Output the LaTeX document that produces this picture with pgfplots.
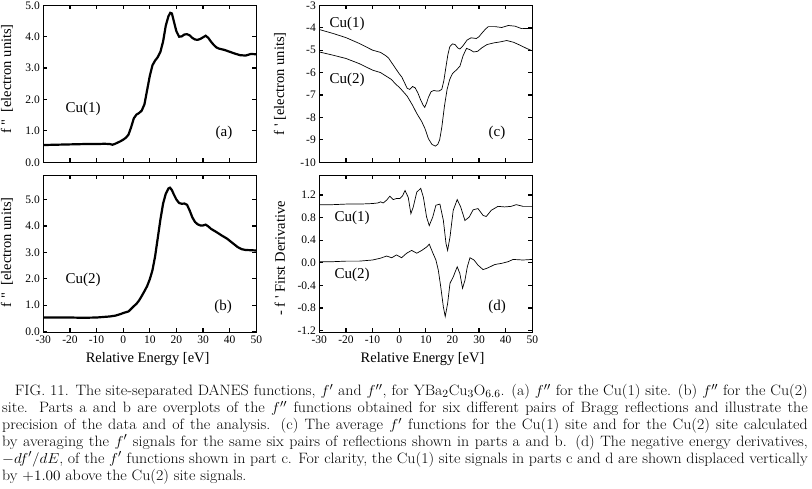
\documentclass[border=0pt]{standalone}
\usepackage{fontspec}
\usepackage{graphicx}
\usepackage{pgfplots}
\pgfplotsset{compat=1.18}
\newfontfamily\plotfont{Liberation Serif}
\newcommand\axlabelfont{\plotfont\fontsize{14.5}{15}\selectfont}

\pgfplotsset{
  panel/.style={
    scale only axis, width=213pt, height=157pt,
    xmin=-30, xmax=50, xtick={-30,-20,...,50},
    tick align=inside, major tick length=4pt,
    axis line style={line width=1.5pt},
    every tick/.style={black, line width=1.2pt},
    tick label style={font=\plotfont\fontsize{11.5}{12}\selectfont},
    /pgf/number format/assume math mode=true,
  },
  onedec/.style={yticklabel style={/pgf/number format/.cd, fixed, fixed zerofill, precision=1}},
}

\begin{document}
\begin{tikzpicture}
\path[use as bounding box] (0pt,0pt) rectangle (812pt,489pt);

% (a) f'' Cu(1)
\begin{axis}[panel, onedec, at={(43.3pt,326.7pt)}, anchor=south west,
  ymin=0, ymax=5, ytick={0,1,...,5}, xticklabels={},
  ylabel={f "\ \ [electron units]},
  every axis y label/.style={at={(axis description cs:-0.170,0.53)}, rotate=90, anchor=center, font=\axlabelfont}]
\addplot[black, line width=2.2pt] coordinates {
(-30,0.55) (-25,0.56) (-20,0.57) (-15,0.58) (-10,0.58) (-7,0.59) (-5,0.58)
(-4,0.56) (-3,0.59) (-2,0.63) (-1,0.67) (0,0.72) (1,0.78) (2,0.88) (3,1.12)
(4,1.40) (5,1.52) (6,1.57) (7,1.65) (8,1.85) (9,2.30) (10,2.75) (11,3.09)
(12,3.24) (13,3.35) (14,3.52) (15,3.85) (16,4.35) (17,4.65) (17.7,4.76)
(18.3,4.74) (19,4.5) (20,4.17) (21,4.0) (22,4.01) (23,4.07) (24,4.08)
(25,4.04) (26,3.96) (27,3.91) (28,3.9) (29,3.93) (30,3.98) (31,4.03)
(32,3.96) (33,3.84) (34,3.74) (35,3.66) (36,3.62) (38,3.58) (40,3.52)
(42,3.46) (44,3.41) (46,3.40) (48,3.45) (50,3.44)};
\end{axis}

% (b) f'' Cu(2)
\begin{axis}[panel, onedec, at={(43.3pt,156.7pt)}, anchor=south west,
  ymin=-0.03, ymax=5.92, ytick={0,1,...,5},
  ylabel={f "\ \ [electron units]}, xlabel={Relative Energy [eV]},
  every axis y label/.style={at={(axis description cs:-0.170,0.51)}, rotate=90, anchor=center, font=\axlabelfont},
  every axis x label/.style={at={(axis description cs:0.49,-0.168)}, anchor=center, font=\axlabelfont}]
\addplot[black, line width=2.2pt] coordinates {
(-30,0.53) (-20,0.53) (-15,0.52) (-10,0.53) (-5,0.57) (-3,0.6) (-1,0.66)
(0,0.70) (1,0.73) (2,0.76) (3,0.86) (4,0.96) (5,1.05) (6,1.18) (7,1.35)
(8,1.53) (9,1.72) (10,1.98) (11,2.32) (12,2.85) (13,3.55) (14,4.25)
(15,4.85) (16,5.22) (17,5.42) (17.6,5.45) (18.3,5.36) (19,5.2) (20,5.0)
(21,4.87) (22,4.84) (23,4.85) (24,4.8) (25,4.58) (26,4.32) (27,4.15)
(28,4.06) (29,4.02) (30,4.02) (31,4.05) (32,3.98) (33,3.89) (35,3.77)
(37,3.64) (39,3.52) (41,3.36) (43,3.2) (44.5,3.12) (46,3.09) (48,3.08) (50,3.07)};
\end{axis}

% (c) f'
\begin{axis}[panel, at={(319.3pt,326.7pt)}, anchor=south west,
  ymin=-10, ymax=-3, ytick={-10,-9,...,-3}, xticklabels={},
  ylabel={f '\ [electron units]},
  every axis y label/.style={at={(axis description cs:-0.185,0.5)}, rotate=90, anchor=center, font=\axlabelfont}]
\addplot[black, line width=0.7pt] coordinates {
(-30,-4.08) (-25,-4.25) (-20,-4.44) (-15,-4.7) (-10,-5.0) (-7,-5.1)
(-5,-5.25) (-4,-5.35) (-2,-5.7) (0,-6.05) (1,-6.2) (2,-6.45) (3,-6.7)
(4,-6.75) (5,-6.62) (6,-6.68) (7,-6.9) (8,-7.2) (9,-7.45) (9.6,-7.55)
(10.3,-7.35) (11,-7.1) (12,-6.85) (13,-6.8) (14,-6.82) (15,-6.82)
(16,-6.75) (16.8,-6.35) (17.5,-5.8) (18.3,-5.2) (19,-4.85) (20,-4.72)
(21,-4.75) (22,-4.9) (22.8,-4.95) (24,-4.8) (25.5,-4.55) (27,-4.45)
(29,-4.48) (30,-4.4) (31,-4.25) (32.5,-4.05) (33.5,-3.95) (36,-3.95)
(38.5,-3.99) (41,-3.9) (43.5,-3.93) (46,-4.04) (50,-4.03)};
\addplot[black, line width=0.7pt] coordinates {
(-30,-5.08) (-25,-5.22) (-20,-5.37) (-15,-5.6) (-10,-5.89) (-7,-6.0)
(-5,-6.15) (-3,-6.3) (-1,-6.55) (0,-6.65) (1,-6.78) (3,-7.05) (5,-7.45)
(6.6,-7.82) (8.5,-8.19) (9.7,-8.5) (11,-8.95) (12.3,-9.2) (13.6,-9.28)
(14.5,-9.2) (15.2,-9.0) (16,-8.45) (17,-7.5) (18,-6.75) (19,-6.3)
(20,-6.05) (21.5,-5.88) (22.8,-5.72) (24,-5.25) (25.3,-4.92) (26.6,-4.98)
(28,-5.08) (29.5,-5.05) (31,-4.9) (33,-4.75) (35.4,-4.68) (38,-4.63)
(40.4,-4.57) (43,-4.65) (45.4,-4.78) (48,-4.93) (50,-5.03)};
\end{axis}

% (d) -df'/dE
\begin{axis}[panel, onedec, at={(319.3pt,156.7pt)}, anchor=south west,
  ymin=-1.23, ymax=1.55, ytick={-1.2,-0.8,...,1.3},
  ylabel={- f '\ First Derivative}, xlabel={Relative Energy [eV]},
  every axis y label/.style={at={(axis description cs:-0.185,0.47)}, rotate=90, anchor=center, font=\axlabelfont},
  every axis x label/.style={at={(axis description cs:0.485,-0.168)}, anchor=center, font=\axlabelfont}]
\addplot[black, line width=0.7pt] coordinates {
(-30,1.03) (-25,1.03) (-20,1.04) (-15,1.04) (-10,1.05) (-8,1.06) (-7,1.08)
(-6,1.06) (-4.7,1.11) (-3.5,1.18) (-2.2,1.12) (-1,1.14) (0.3,1.14)
(1.3,1.19) (2.2,1.28) (3.4,1.16) (4.4,0.87) (5.3,0.99) (6.6,1.25)
(8.1,1.32) (9.1,1.16) (10.3,0.81) (11.3,0.66) (12.6,0.81) (13.8,1.02)
(15.3,1.04) (16.6,0.75) (17.6,0.34) (18.2,0.22) (19.1,0.46) (20.3,0.93)
(21.8,1.12) (23.1,0.99) (24.7,0.75) (26.3,0.81) (27.8,0.94) (29.6,0.96)
(31.5,0.84) (32.7,0.82) (34.6,0.93) (37.1,1.0) (39.6,0.99) (42.1,1.0)
(44,1.03) (46.5,1.0) (50,1.0)};
\addplot[black, line width=0.7pt] coordinates {
(-30,0.02) (-25,0.02) (-20,0.03) (-15,0.03) (-10,0.05) (-7.2,0.08)
(-4.7,0.12) (-2.8,0.09) (-1,0.14) (0.9,0.09) (2.8,0.17) (4.7,0.22)
(6.6,0.17) (8.5,0.22) (10.3,0.28) (11.3,0.33) (12.6,0.18) (13.8,0.05)
(14.7,-0.13) (15.6,-0.42) (16.6,-0.78) (17.3,-0.95) (18.2,-0.72)
(19.1,-0.36) (20.3,-0.25) (21.8,-0.07) (22.8,-0.19) (23.8,-0.45)
(24.7,-0.31) (25.6,-0.07) (26.6,0.09) (28.1,0.05) (29.6,-0.04)
(31.5,-0.12) (33.3,-0.09) (35.9,-0.03) (38.4,-0.01) (40.9,0.02)
(42.8,0.06) (46.5,0.05) (50,0.06)};
\end{axis}

% panel annotations
\begin{scope}[every node/.style={font=\plotfont\fontsize{15}{16}\selectfont, inner sep=0}]
\node at (83pt,380pt) {Cu(1)};
\node at (224pt,356pt) {(a)};
\node at (83pt,209pt) {Cu(2)};
\node at (223pt,182pt) {(b)};
\node at (347pt,465pt) {Cu(1)};
\node at (347pt,409pt) {Cu(2)};
\node at (497pt,356pt) {(c)};
\node at (352pt,271pt) {Cu(1)};
\node at (352pt,214pt) {Cu(2)};
\node at (497pt,182pt) {(d)};
\end{scope}

% caption
\node[anchor=north west, inner sep=0] at (2pt,105pt) {\scalebox{1.06}[1]{\parbox[t]{760pt}{%
\fontsize{15}{16.9}\selectfont
\hspace*{12pt}FIG. 11.  The site-separated DANES functions, $f'$ and $f''$, for YBa$_2$Cu$_3$O$_{6.6}$.  (a) $f''$ for the Cu(1) site.  (b) $f''$ for the Cu(2)\linebreak
site.  Parts a and b are overplots of the $f''$ functions obtained for six different pairs of Bragg reflections and illustrate the\linebreak
precision of the data and of the analysis.  (c) The average $f'$ functions for the Cu(1) site and for the Cu(2) site calculated\linebreak
by averaging the $f'$ signals for the same six pairs of reflections shown in parts a and b.  (d) The negative energy derivatives,\linebreak
$-df'/dE$, of the $f'$ functions shown in part c.  For clarity, the Cu(1) site signals in parts c and d are shown displaced vertically\linebreak
by $+1.00$ above the Cu(2) site signals.}}};
\end{tikzpicture}
\end{document}
